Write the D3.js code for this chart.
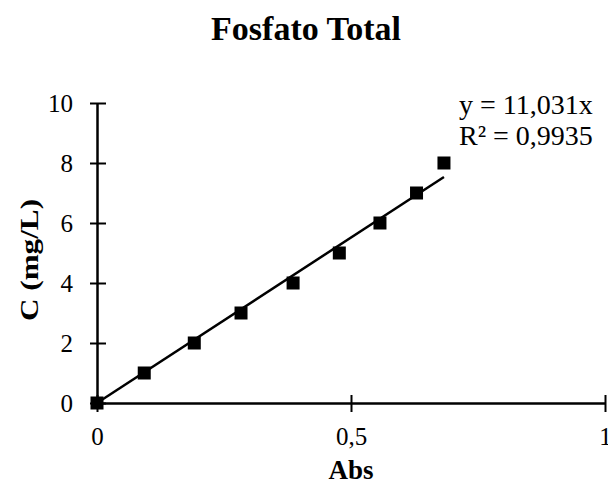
<!DOCTYPE html>
<html><head><meta charset="utf-8">
<script src="https://cdn.jsdelivr.net/npm/d3@7"></script>
<style>body{margin:0;background:#fff}svg{display:block}text{font-family:"Liberation Serif","Times New Roman",serif;fill:#000}</style>
</head><body><svg id="c" width="608" height="487"></svg>
<script>
const absValues = [0, 0.093, 0.1915, 0.2835, 0.386, 0.477, 0.557, 0.629, 0.683];
const concValues = [0, 1, 2, 3, 4, 5, 6, 7, 8];
const slope = 11.031;
const xTicks = [0, 0.5, 1];
const xTickLabels = ["0", "0,5", "1"];
const yTicks = [0, 2, 4, 6, 8, 10];
const title = "Fosfato Total";
const xLabel = "Abs";
const yLabel = "C (mg/L)";
const eqLines = ["y = 11,031x", "R² = 0,9935"];

const svg = d3.select("#c");
const x = d3.scaleLinear().domain([0, 1]).range([97, 605]);
const y = d3.scaleLinear().domain([0, 10]).range([403, 103]);

// axes
const yAxis = svg.append("g").attr("transform", `translate(${x(0)},0)`)
  .call(d3.axisLeft(y).tickValues(yTicks).tickSizeInner(0).tickSizeOuter(0).tickPadding(24).tickFormat(d3.format("d")));
yAxis.select(".domain").attr("stroke", "#000").attr("stroke-width", 2.5);
yAxis.selectAll(".tick line").attr("x1", -7).attr("x2", 9).attr("stroke", "#000").attr("stroke-width", 2);
yAxis.selectAll(".tick text").attr("font-size", 25).attr("font-family", "Liberation Serif, serif");

const xAxis = svg.append("g").attr("transform", `translate(0,${y(0)})`)
  .call(d3.axisBottom(x).tickValues(xTicks).tickSizeInner(0).tickSizeOuter(0).tickPadding(24).tickFormat((d, i) => xTickLabels[i]));
xAxis.select(".domain").attr("stroke", "#000").attr("stroke-width", 2.5);
xAxis.selectAll(".tick line").attr("y1", -8).attr("y2", 9).attr("stroke", "#000").attr("stroke-width", 2);
xAxis.selectAll(".tick text").attr("font-size", 25).attr("font-family", "Liberation Serif, serif");

// trendline
const xMax = d3.max(absValues);
svg.append("line")
  .attr("x1", x(0)).attr("y1", y(0))
  .attr("x2", x(xMax)).attr("y2", y(slope * xMax))
  .attr("stroke", "#000").attr("stroke-width", 2.5);

// points
const pts = absValues.map((a, i) => ({a, c: concValues[i]}));
svg.append("g").selectAll("rect").data(pts).join("rect")
  .attr("x", d => x(d.a) - 6.5).attr("y", d => y(d.c) - 6.5)
  .attr("width", 13).attr("height", 13).attr("fill", "#000");

// title & labels
svg.append("text").attr("x", 306).attr("y", 40).attr("text-anchor", "middle")
  .attr("font-size", 34).attr("font-weight", "bold").text(title);
svg.append("text").attr("x", 351).attr("y", 479).attr("text-anchor", "middle")
  .attr("font-size", 27).attr("font-weight", "bold").text(xLabel);
svg.append("text").attr("transform", "translate(38,260) rotate(-90)").attr("text-anchor", "middle")
  .attr("font-size", 26).attr("font-weight", "bold")
  .attr("textLength", 122).attr("lengthAdjust", "spacingAndGlyphs").text(yLabel);

// equation
svg.append("g").selectAll("text").data(eqLines).join("text")
  .attr("x", 459).attr("y", (d, i) => 114 + i * 31)
  .attr("font-size", 28).text(d => d);
</script></body></html>
